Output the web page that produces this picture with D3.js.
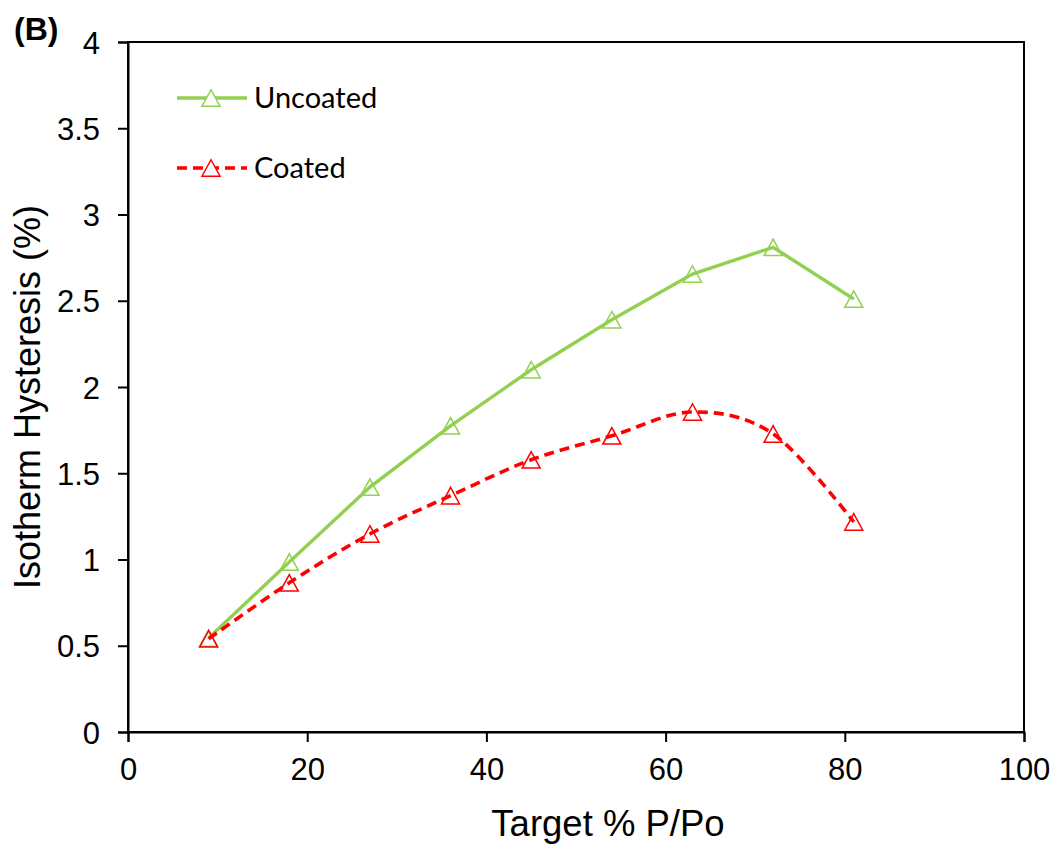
<!DOCTYPE html>
<html>
<head>
<meta charset="utf-8">
<script src="https://cdn.jsdelivr.net/npm/d3@7"></script>
<style>
  html, body { margin: 0; padding: 0; background: #fff; }
  svg { display: block; font-family: Arial, "Liberation Sans", sans-serif; }
</style>
</head>
<body>
<svg id="chart" width="1056" height="845"></svg>
<script>
// Relative pressure targets (% P/Po)
const targets = [9, 18, 27, 36, 45, 54, 63, 72, 81];
// Isotherm hysteresis (%) for each film
const uncoated = [0.545, 0.985, 1.42, 1.775, 2.10, 2.39, 2.655, 2.81, 2.51];
const coated   = [0.54, 0.865, 1.148, 1.37, 1.578, 1.717, 1.855, 1.728, 1.218];
const xTicks = [0, 20, 40, 60, 80, 100];
const yTicks = [0, 0.5, 1, 1.5, 2, 2.5, 3, 3.5, 4];
const seriesNames = ["Uncoated", "Coated"];

const svg = d3.select("#chart");
const plotLeft = 128, plotRight = 1024, plotTop = 42, plotBottom = 732;

const x = d3.scaleLinear().domain([0, 100]).range([plotLeft, plotRight]);
const y = d3.scaleLinear().domain([0, 4]).range([plotBottom, plotTop]);

const green = "#92D050";
const red = "#FF0000";

// Frame
svg.append("rect")
  .attr("x", plotLeft).attr("y", plotTop)
  .attr("width", plotRight - plotLeft).attr("height", plotBottom - plotTop)
  .attr("fill", "none").attr("stroke", "#000").attr("stroke-width", 2);

// Axes
const yAxis = svg.append("g")
  .attr("transform", `translate(${plotLeft},0)`)
  .call(d3.axisLeft(y).tickValues(yTicks).tickSize(10).tickPadding(18)
    .tickFormat(d => String(d)));
const xAxis = svg.append("g")
  .attr("transform", `translate(0,${plotBottom})`)
  .call(d3.axisBottom(x).tickValues(xTicks).tickSize(10).tickPadding(16)
    .tickFormat(d => String(d)));

[yAxis, xAxis].forEach(g => {
  g.select(".domain").attr("stroke", "#000").attr("stroke-width", 2);
  g.selectAll(".tick line").attr("stroke", "#000").attr("stroke-width", 2);
  g.selectAll(".tick text")
    .attr("fill", "#000")
    .style("font-size", "31px")
    .style("font-family", "Arial, 'Liberation Sans', sans-serif");
});
yAxis.selectAll(".tick text").attr("dy", "0.36em");

// Axis titles
svg.append("text")
  .attr("x", 608).attr("y", 836)
  .attr("text-anchor", "middle")
  .style("font-size", "36.5px")
  .text("Target % P/Po");

svg.append("text")
  .attr("transform", `translate(40,397) rotate(-90)`)
  .attr("text-anchor", "middle")
  .style("font-size", "36px")
  .text("Isotherm Hysteresis (%)");

// Panel label
svg.append("text")
  .attr("x", 14).attr("y", 40)
  .style("font-size", "32px").style("font-weight", "bold")
  .text("(B)");

// Hollow triangle marker centred on its bounding box
const triW = 18, triH = 16.5;
const triPath = `M0,${-triH / 2}L${triW / 2},${triH / 2}L${-triW / 2},${triH / 2}Z`;

function drawSeries(values, color, dashed, curve) {
  const pts = targets.map((t, i) => [t, values[i]]);
  const line = d3.line().x(d => x(d[0])).y(d => y(d[1])).curve(curve);
  svg.append("path")
    .datum(pts)
    .attr("d", line)
    .attr("fill", "none")
    .attr("stroke", color)
    .attr("stroke-width", dashed ? 3.6 : 3.4)
    .attr("stroke-dasharray", dashed ? "10,6" : null);
  svg.append("g").selectAll("path")
    .data(pts).join("path")
    .attr("d", triPath)
    .attr("transform", d => `translate(${x(d[0])},${y(d[1])})`)
    .attr("fill", "none")
    .attr("stroke", color)
    .attr("stroke-width", 1.5);
}

drawSeries(uncoated, green, false, d3.curveLinear);
drawSeries(coated, red, true, d3.curveCardinal.tension(0));

// Legend
const legend = [
  { name: seriesNames[0], color: green, dashed: false, yPos: 98 },
  { name: seriesNames[1], color: red, dashed: true, yPos: 168 }
];
legend.forEach(l => {
  svg.append("line")
    .attr("x1", 177).attr("x2", 247).attr("y1", l.yPos).attr("y2", l.yPos)
    .attr("stroke", l.color)
    .attr("stroke-width", l.dashed ? 3.6 : 3.4)
    .attr("stroke-dasharray", l.dashed ? "10,6" : null);
  svg.append("path")
    .attr("d", triPath)
    .attr("transform", `translate(211,${l.yPos})`)
    .attr("fill", "#fff")
    .attr("stroke", l.color)
    .attr("stroke-width", 1.5);
  svg.append("text")
    .attr("x", 254).attr("y", l.yPos)
    .attr("dy", "0.35em")
    .style("font-size", "29px")
    .style("font-family", "Lato, 'Open Sans', sans-serif")
    .text(l.name);
});
</script>
</body>
</html>
